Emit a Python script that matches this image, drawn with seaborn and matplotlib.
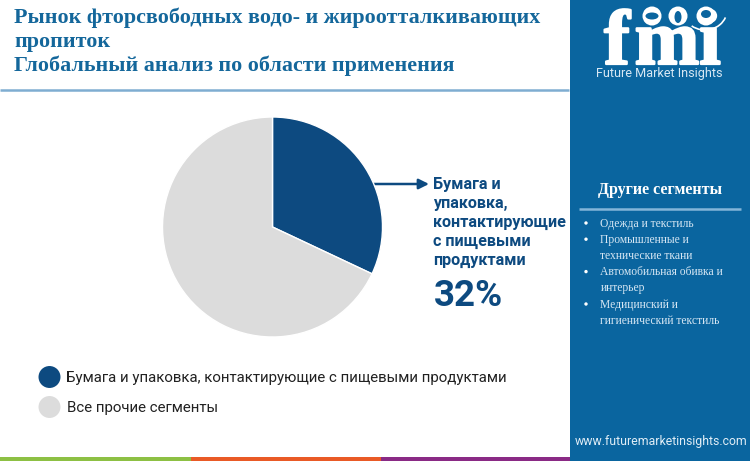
# Рынок пропиток - круговая диаграмма
import matplotlib
matplotlib.use("Agg")
import matplotlib.pyplot as plt
import matplotlib.patheffects as pe
import seaborn as sns
from matplotlib.patches import Rectangle, Circle, Arc, Ellipse

# Данные
segments = ["Бумага и упаковка, контактирующие с пищевыми продуктами", "Все прочие сегменты"]
shares = [32, 68]
pie_colors = ["#0d4a80", "#dcdcdc"]
title_lines = ["Рынок фторсвободных водо- и жироотталкивающих", "пропиток", "Глобальный анализ по области применения"]
callout_lines = ["Бумага и", "упаковка,", "контактирующие", "с пищевыми", "продуктами"]
other_items = ["Одежда и текстиль", "Промышленные и", "технические ткани", "Автомобильная обивка и", "интерьер", "Медицинский и", "гигиенический текстиль"]
other_bullets = [True, True, False, True, False, True, False]

sns.set_theme(style="white")
plt.rcParams["font.family"] = ["Roboto", "DejaVu Sans"]

W, H = 750, 461
BLUE = "#0a659f"
fig = plt.figure(figsize=(W / 100, H / 100), dpi=100, facecolor="white")

# слой для разметки в пикселях
bg = fig.add_axes([0, 0, 1, 1])
bg.set_xlim(0, W)
bg.set_ylim(H, 0)
bg.axis("off")

# боковая панель и нижняя полоса
bg.add_patch(Rectangle((570, 0), 180, 461, color=BLUE, lw=0))
bg.add_patch(Rectangle((0, 456.5), 190.5, 4.5, color="#8dc044", lw=0))
bg.add_patch(Rectangle((190.5, 456.5), 190, 4.5, color="#e95a26", lw=0))
bg.add_patch(Rectangle((380.5, 456.5), 189.5, 4.5, color="#8a2a85", lw=0))
bg.plot([0, 569], [90, 90], color="#7fadd1", lw=1.8, solid_capstyle="butt")

# заголовок
for line, y in zip(title_lines, [18, 42, 66]):
    bg.text(14, y, line, color="#14679b", fontsize=15.85, fontweight="bold",
            family="Liberation Serif", va="center", ha="left")

# круговая диаграмма
ax = fig.add_axes([162.5 / W, 1 - 337 / H, 220 / W, 220 / H])
ax.pie(shares, colors=pie_colors, startangle=90, counterclock=False, radius=1)
ax.set_xlim(-1, 1)
ax.set_ylim(-1, 1)

# стрелка и подпись
bg.annotate("", xy=(429, 184), xytext=(372, 184),
            arrowprops=dict(arrowstyle="-|>", color="#0d4a80", lw=1.8, mutation_scale=15, shrinkA=0, shrinkB=0))
for line, y in zip(callout_lines, [184, 203, 222, 241, 260]):
    bg.text(433, y, line, color="#0d4a80", fontsize=11.6, fontweight="bold",
            va="center", ha="left")
bg.text(433.5, 296, "32%", color="#0d4a80", fontsize=26.5, fontweight="bold",
        va="center", ha="left")

# легенда
legend_y = [377, 407]
sns.scatterplot(x=[49.5, 49.5], y=legend_y, hue=segments, palette=pie_colors, s=250,
                linewidth=0, legend=False, ax=bg, clip_on=False)
bg.set_xlim(0, W)
bg.set_ylim(H, 0)
bg.axis("off")
for name, y, x in zip(segments, legend_y, [66, 67]):
    bg.text(x, y + 1, name, color="#222222", fontsize=10.83, va="center", ha="left")

# логотип
for letter, x in zip("fmi", [617, 667, 710]):
    bg.text(x, 64, letter, color="white", fontsize=56, fontweight="bold", family="Liberation Serif",
            va="baseline", ha="center",
            path_effects=[pe.withStroke(linewidth=1.6, foreground="white")])
for y in range(27, 68, 4):
    bg.plot([592, 726], [y, y], color=BLUE, lw=0.6)
for cx in [652, 678, 706]:
    bg.add_patch(Circle((cx, 16), 9.5, color="white", lw=0, zorder=3))
bg.add_patch(Ellipse((652, 16), 13, 7, color=BLUE, lw=0, zorder=4))
bg.add_patch(Ellipse((678, 17), 7, 12, color=BLUE, lw=0, zorder=4))
bg.add_patch(Ellipse((706, 14), 10, 8, color=BLUE, lw=0, zorder=4))
bg.add_patch(Arc((705, 10), 44, 40, theta1=20, theta2=130, color="white", lw=1.2, zorder=4))
bg.text(659.5, 74, "Future Market Insights", color="#d8e8f4", fontsize=9.1,
        va="center", ha="center")

# другие сегменты
bg.text(660, 190, "Другие сегменты", color="white", fontsize=11.5, fontweight="bold",
        family="Liberation Serif", va="center", ha="center")
bg.plot([579, 741], [208.5, 208.5], color="#84b5d9", lw=1.8, solid_capstyle="butt")
for i, (item, bullet) in enumerate(zip(other_items, other_bullets)):
    y = 223.5 + i * 16.2
    bg.text(600.5, y, item, color="#d5e6f3", fontsize=8.4, family="Liberation Serif", va="center", ha="left")
    if bullet:
        bg.add_patch(Circle((586, y - 0.5), 1.7, color="white", lw=0))

bg.text(661, 441, "www.futuremarketinsights.com", color="#e0edf6", fontsize=8.8,
        va="center", ha="center")

ax.set_zorder(2)
fig.savefig("out.png", dpi=100)
